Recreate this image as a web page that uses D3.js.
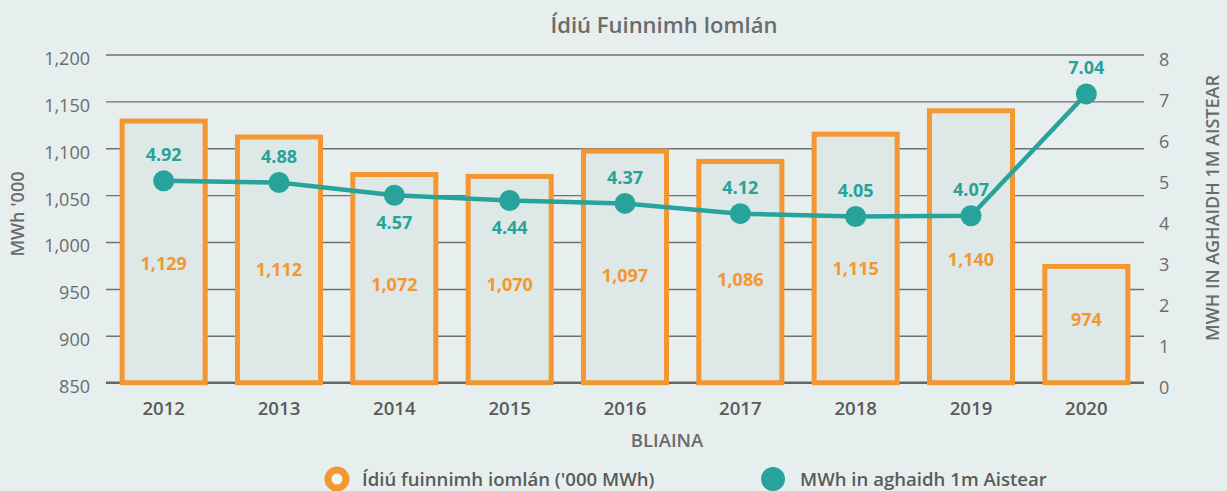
<!DOCTYPE html>
<html>
<head>
<meta charset="utf-8">
<script src="https://cdn.jsdelivr.net/npm/d3@7"></script>
<style>
  html, body { margin: 0; padding: 0; background: #e6efee; }
  svg text { font-family: "Open Sans", "Noto Sans", sans-serif; }
</style>
</head>
<body>
<script>
const years = ["2012", "2013", "2014", "2015", "2016", "2017", "2018", "2019", "2020"];
const energyUse = [1129, 1112, 1072, 1070, 1097, 1086, 1115, 1140, 974];
const perJourney = [4.92, 4.88, 4.57, 4.44, 4.37, 4.12, 4.05, 4.07, 7.04];
const leftTicks = [850, 900, 950, 1000, 1050, 1100, 1150, 1200];
const rightTicks = [0, 1, 2, 3, 4, 5, 6, 7, 8];
const chartTitle = "Ídiú Fuinnimh Iomlán";
const leftTitle = "MWh '000";
const rightTitle = "MWH IN AGHAIDH 1M AISTEAR";
const xTitle = "BLIAINA";
const legendLabels = ["Ídiú fuinnimh iomlán ('000 MWh)", "MWh in aghaidh 1m Aistear"];

const W = 1227, H = 491;
const orange = "#f39732", teal = "#27a39c", grid = "#707070";
const textGray = "#6b6b6b", darkGray = "#5a5a5a";

const svg = d3.select("body").append("svg").attr("width", W).attr("height", H);
svg.append("rect").attr("width", W).attr("height", H).attr("fill", "#e6efee");

const pLeft = 106, pRight = 1144, pTop = 54.5, pBottom = 382.7;

const x = d3.scaleBand().domain(years).range([pLeft, pRight]).paddingInner(0.28).paddingOuter(0.14);
const yL = d3.scaleLinear().domain([850, 1200]).range([pBottom, pTop]);
const yR = d3.scaleLinear().domain([0, 8]).range([pBottom, pTop]);

// gridlines + left axis
const gAxL = svg.append("g").attr("transform", `translate(${pLeft},0)`)
  .call(d3.axisLeft(yL).tickValues(leftTicks).tickSize(-(pRight - pLeft)).tickPadding(16).tickFormat(d3.format(",")));
gAxL.select(".domain").remove();
gAxL.selectAll(".tick line").attr("stroke", grid).attr("stroke-width", 1.4);
gAxL.selectAll(".tick text").attr("fill", textGray).attr("font-size", 18).attr("dy", "0.55em");

// baseline
svg.append("line").attr("x1", pLeft).attr("x2", pRight).attr("y1", yL(850)).attr("y2", yL(850))
  .attr("stroke", "#666").attr("stroke-width", 2.5);

// right axis
const gAxR = svg.append("g").attr("transform", `translate(${pRight},0)`)
  .call(d3.axisRight(yR).tickValues(rightTicks).tickSize(0).tickPadding(15));
gAxR.select(".domain").remove();
gAxR.selectAll(".tick text").attr("fill", textGray).attr("font-size", 18).attr("dy", "0.62em");

// bars
svg.append("g").selectAll("rect").data(energyUse).join("rect")
  .attr("x", (d, i) => x(years[i]))
  .attr("width", x.bandwidth())
  .attr("y", d => yL(d))
  .attr("height", d => yL(850) - yL(d))
  .attr("fill", "#dde8e7")
  .attr("stroke", orange)
  .attr("stroke-width", 5);

// bar labels
svg.append("g").selectAll("text").data(energyUse).join("text")
  .attr("x", (d, i) => x(years[i]) + x.bandwidth() / 2)
  .attr("y", d => { const t = yL(d); return t + 0.616 * (353 - t); })
  .attr("dy", "0.35em")
  .attr("text-anchor", "middle")
  .attr("fill", orange)
  .attr("font-size", 18)
  .attr("font-weight", 700)
  .text(d => d3.format(",")(d));

// line
const cx = i => x(years[i]) + x.bandwidth() / 2;
svg.append("path").datum(perJourney)
  .attr("fill", "none").attr("stroke", teal).attr("stroke-width", 4.5)
  .attr("d", d3.line().x((d, i) => cx(i)).y(d => yR(d)));
svg.append("g").selectAll("circle").data(perJourney).join("circle")
  .attr("cx", (d, i) => cx(i)).attr("cy", d => yR(d)).attr("r", 10.5).attr("fill", teal);

// point labels (below when an above label would sit on the bar top)
svg.append("g").selectAll("text").data(perJourney).join("text")
  .attr("x", (d, i) => cx(i))
  .attr("y", (d, i) => {
    const py = yR(d), barTop = yL(energyUse[i]);
    const above = py - 26;
    return Math.abs(above - barTop) < 16 ? py + 27 : above;
  })
  .attr("dy", "0.35em")
  .attr("text-anchor", "middle")
  .attr("fill", teal)
  .attr("font-size", 18)
  .attr("font-weight", 700)
  .text(d => d3.format(".2f")(d));

// x axis labels
svg.append("g").selectAll("text").data(years).join("text")
  .attr("x", d => x(d) + x.bandwidth() / 2)
  .attr("y", 408).attr("dy", "0.35em")
  .attr("text-anchor", "middle").attr("fill", darkGray)
  .attr("font-size", 18.6).attr("font-weight", 600)
  .text(d => d);

// titles
svg.append("text").attr("x", 664).attr("y", 25.5).attr("dy", "0.35em")
  .attr("text-anchor", "middle").attr("fill", textGray)
  .attr("font-size", 22).attr("font-weight", 600).text(chartTitle);
svg.append("text").attr("x", 667).attr("y", 441).attr("dy", "0.35em")
  .attr("text-anchor", "middle").attr("fill", textGray)
  .attr("font-size", 18.5).attr("font-weight", 600).text(xTitle);
svg.append("text").attr("transform", "translate(18,214) rotate(-90)").attr("dy", "0.35em")
  .attr("text-anchor", "middle").attr("fill", textGray)
  .attr("font-size", 18).attr("font-weight", 600).text(leftTitle);
svg.append("text").attr("transform", "translate(1213,208) rotate(-90)").attr("dy", "0.35em")
  .attr("text-anchor", "middle").attr("fill", textGray)
  .attr("font-size", 18).attr("font-weight", 600).text(rightTitle);

// legend
const lg = svg.append("g");
lg.append("circle").attr("cx", 337).attr("cy", 479).attr("r", 9).attr("fill", "#f4f4f4")
  .attr("stroke", orange).attr("stroke-width", 7);
lg.append("text").attr("x", 362).attr("y", 479).attr("dy", "0.35em").attr("fill", darkGray)
  .attr("font-size", 18.6).attr("font-weight", 600).text(legendLabels[0]);
lg.append("circle").attr("cx", 773).attr("cy", 479).attr("r", 12).attr("fill", teal);
lg.append("text").attr("x", 800).attr("y", 479).attr("dy", "0.35em").attr("fill", darkGray)
  .attr("font-size", 18.6).attr("font-weight", 600).text(legendLabels[1]);
</script>
</body>
</html>
